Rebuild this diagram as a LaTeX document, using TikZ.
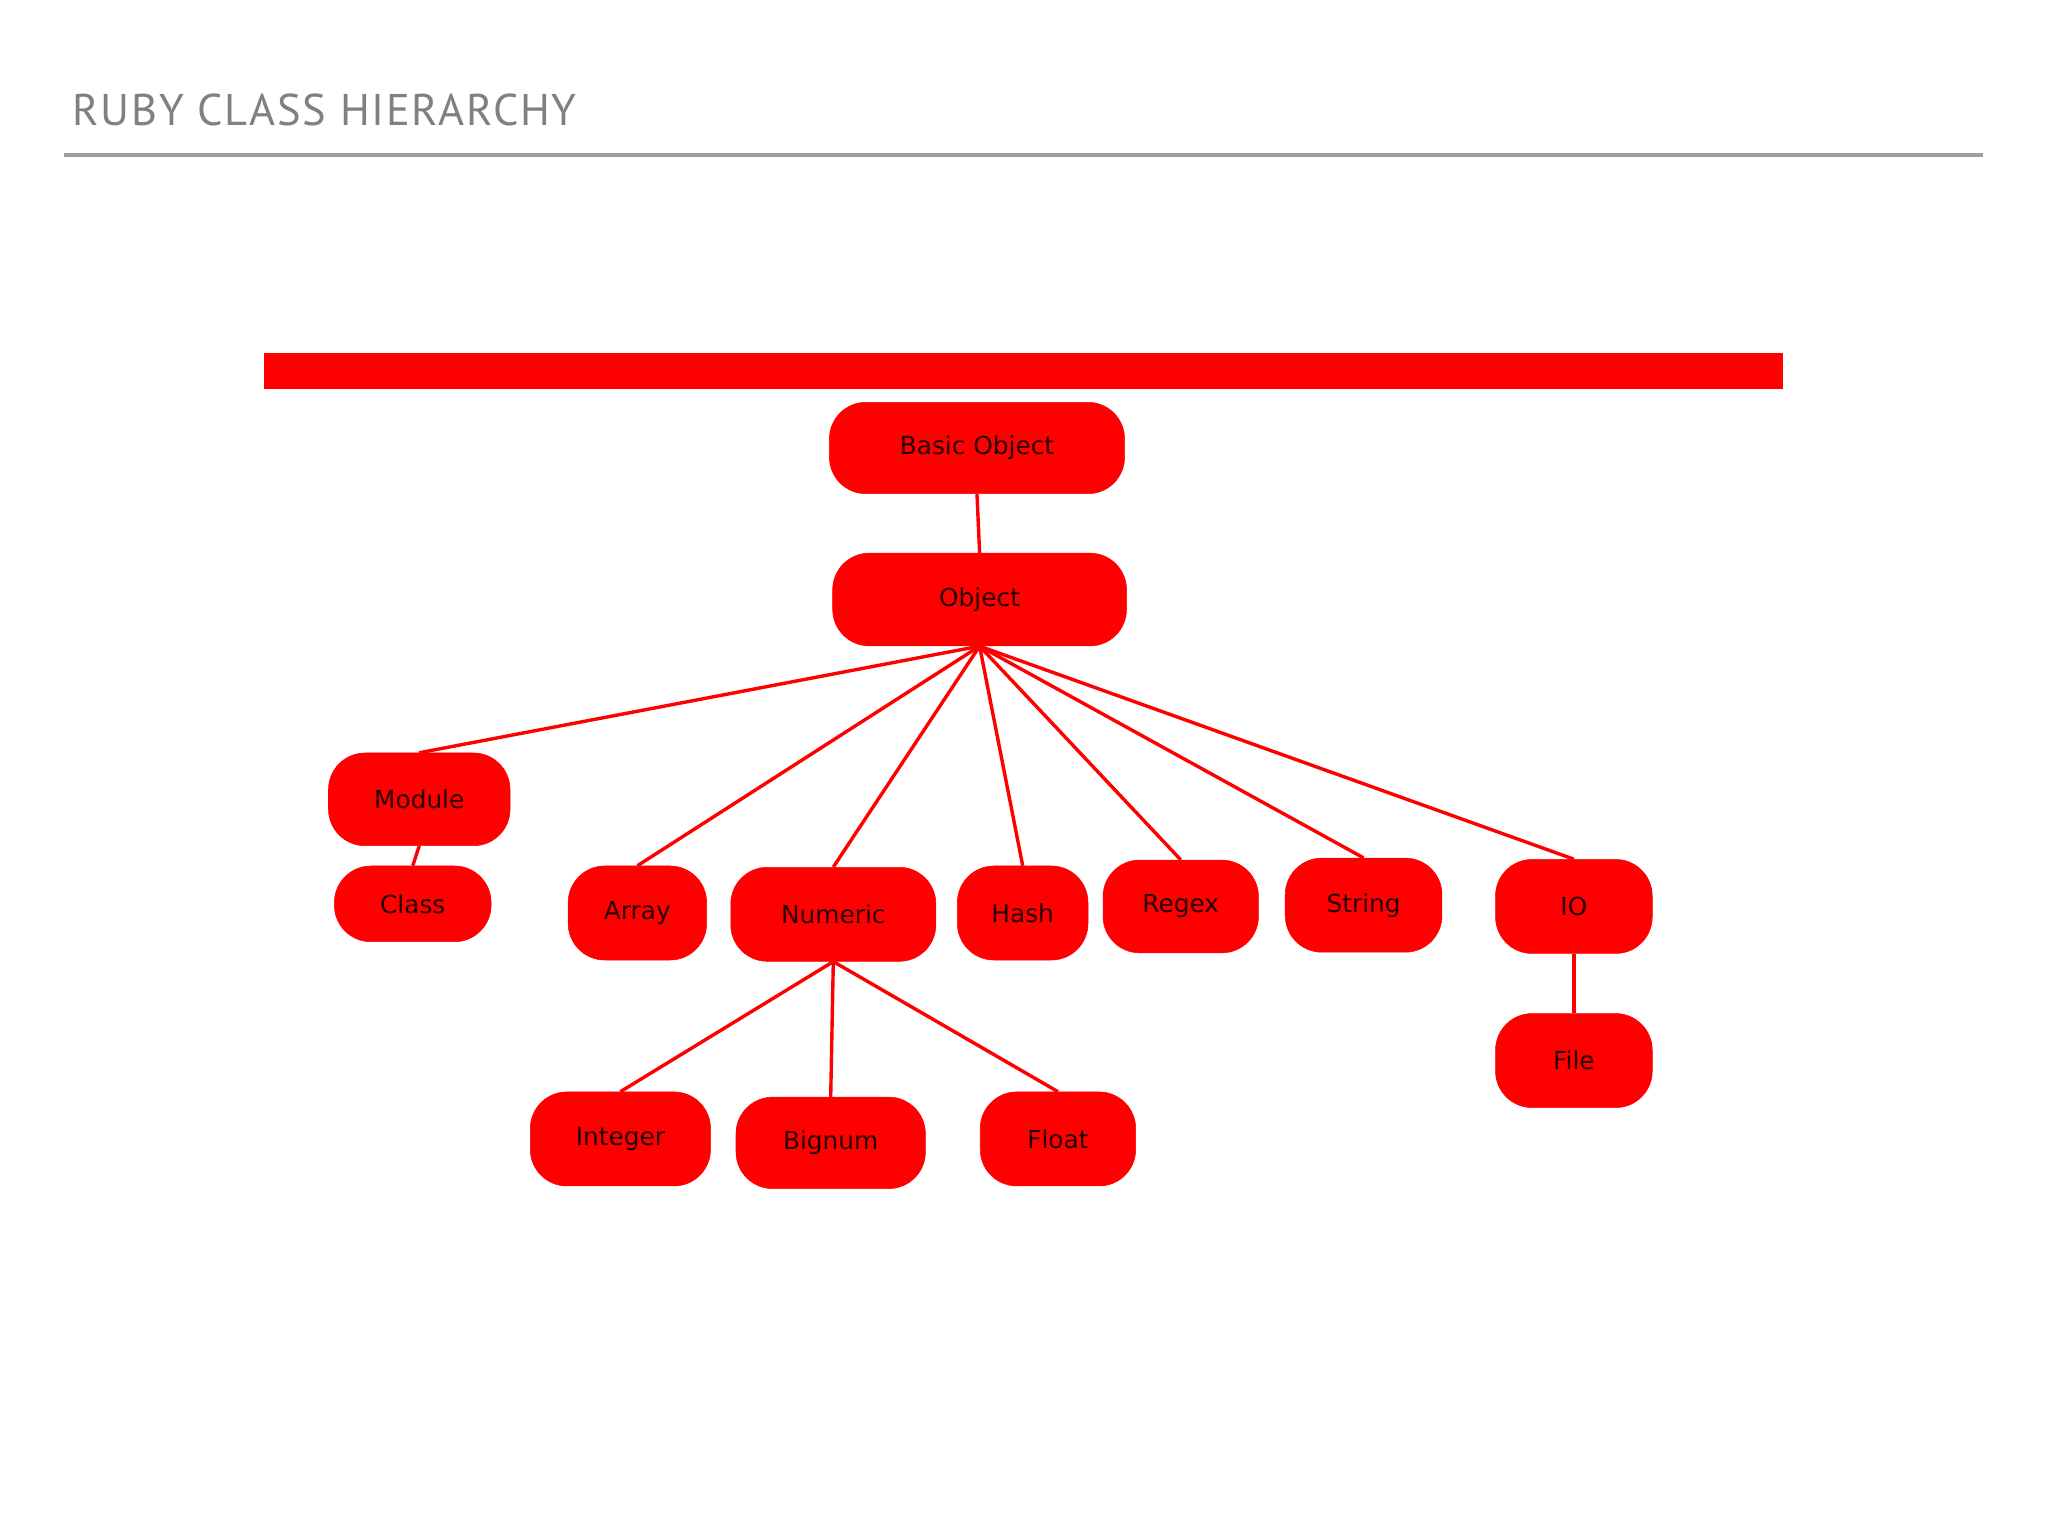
\documentclass[tikz,border=0pt]{standalone}
\usepackage{fontspec}
\setmainfont{DejaVu Sans}
\newfontfamily\titlefont[LetterSpace=4]{PT Sans}
\begin{document}
\begin{tikzpicture}[x=1pt,y=-1pt,
  cls/.style={fill=red,draw=red,rounded corners=28pt,text=black!85!red,font=\fontsize{19}{22}\selectfont},
  edge/.style={draw=red,line width=2.6pt}]
\useasboundingbox[fill=white] (0,0) rectangle (1568,1176);
\node[anchor=west,text=gray,font=\titlefont\fontsize{34}{38}\selectfont] (title) at (52,84) {RUBY CLASS HIERARCHY};
\draw[gray!75,line width=3pt] (49,119) -- (1518,119);
\fill[red] (202,270) rectangle (1365,298);
\newcommand\cnode[6]{\node[cls,minimum width=#4pt,minimum height=#5pt] (#1) at (#2,#3) {#6};}
\cnode{basic}{748}{343}{226}{70}{Basic Object}
\cnode{object}{750}{459}{225}{71}{Object}
\cnode{module}{321}{612}{139}{71}{Module}
\cnode{class}{316}{692}{120}{58}{Class}
\cnode{array}{488}{699}{106}{72}{Array}
\cnode{numeric}{638}{700}{157}{72}{Numeric}
\cnode{hash}{783}{699}{100}{72}{Hash}
\cnode{regex}{904}{694}{119}{71}{Regex}
\cnode{string}{1044}{693}{120}{72}{String}
\cnode{io}{1205}{694}{120}{72}{IO}
\cnode{file}{1205}{812}{120}{72}{File}
\cnode{integer}{475}{872}{138}{72}{Integer}
\cnode{bignum}{636}{875}{145}{70}{Bignum}
\cnode{float}{810}{872}{119}{72}{Float}
\draw[edge] (basic.south) -- (object.north);
\foreach \c in {module,array,numeric,hash,regex,string,io}
  \draw[edge] (object.south) -- (\c.north);
\draw[edge] (module.south) -- (class.north);
\foreach \c in {integer,bignum,float}
  \draw[edge] (numeric.south) -- (\c.north);
\draw[edge] (io.south) -- (file.north);
\end{tikzpicture}
\end{document}
